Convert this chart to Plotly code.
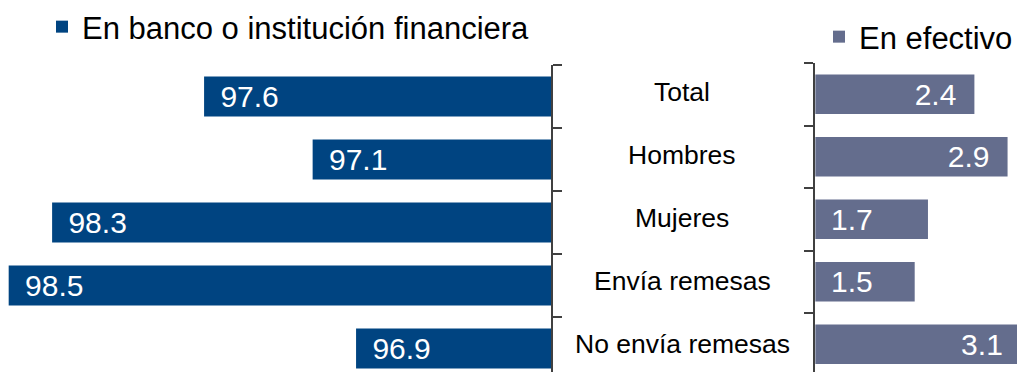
import plotly.graph_objects as go

# Forma de recepción de remesas (%)
categorias = ["Total", "Hombres", "Mujeres", "Envía remesas", "No envía remesas"]
banco = [97.6, 97.1, 98.3, 98.5, 96.9]
efectivo = [2.4, 2.9, 1.7, 1.5, 3.1]
# where each "en efectivo" label sits inside its bar
anclaje_efectivo = ["fin", "fin", "inicio", "inicio", "fin"]

serie_banco = "En banco o institución financiera"
serie_efectivo = "En efectivo"

azul = "#004481"
gris_azul = "#646d8d"
eje = "#404040"
fuente = "Liberation Sans, Arial, sans-serif"
W, H = 1018, 372

fig = go.Figure()

fig.add_trace(go.Bar(
    y=categorias, x=banco, orientation="h",
    xaxis="x", yaxis="y",
    marker=dict(color=azul, line=dict(width=0)),
    width=0.635,
    text=["\u00a0\u2006" + f"{v:.1f}" for v in banco],
    textposition="inside", insidetextanchor="end", textangle=0,
    textfont=dict(color="white", size=30, family=fuente),
    constraintext="none",
    name=serie_banco, legend="legend",
    hoverinfo="skip",
))

fig.add_trace(go.Bar(
    y=categorias, x=efectivo, orientation="h",
    xaxis="x2", yaxis="y2",
    marker=dict(color=gris_azul, line=dict(width=0)),
    width=0.635,
    text=[(f"{v:.1f}" + "\u2002") if a == "fin" else ""
          for v, a in zip(efectivo, anclaje_efectivo)],
    textposition="inside", insidetextanchor="end", textangle=0,
    textfont=dict(color="white", size=30, family=fuente),
    constraintext="none",
    name=serie_efectivo, legend="legend2",
    hoverinfo="skip",
))

# Labels of the short "en efectivo" bars sit at the start of the bar
for c, v, a in zip(categorias, efectivo, anclaje_efectivo):
    if a == "inicio":
        fig.add_annotation(
            x=0, xref="x2", y=c, yref="y2",
            text=f"{v:.1f}", showarrow=False,
            xanchor="left", yanchor="middle", xshift=14,
            font=dict(size=30, color="white", family=fuente),
        )

# Category names in the central column
for c in categorias:
    fig.add_annotation(
        x=683 / W, xref="paper", y=c, yref="y",
        text=c, showarrow=False, xanchor="center", yanchor="middle",
        yshift=5,
        font=dict(size=26.5, color="black", family=fuente),
    )

left_px, right_px = 552, 816
y_top_left, y_top_right = 65, 63
step_left, step_right = 63, 62.5
px_por_unidad_der = 66.4

comun_y = dict(
    type="category", categoryorder="array", categoryarray=categorias,
    showline=True, linecolor=eje, linewidth=2,
    ticks="outside", tickson="boundaries", ticklen=9, tickwidth=2, tickcolor=eje,
    showticklabels=False, showgrid=False, zeroline=False, fixedrange=True,
)

fig.update_layout(
    width=W, height=H,
    margin=dict(l=0, r=0, t=0, b=0),
    paper_bgcolor="white", plot_bgcolor="white",
    font=dict(family=fuente, color="black"),
    barmode="overlay",
    xaxis=dict(domain=[0, left_px / W], range=[98.54, 96.0],
               showgrid=False, zeroline=False, showline=False,
               showticklabels=False, ticks="", fixedrange=True),
    yaxis=dict(anchor="x", side="right",
               domain=[0, 1 - y_top_left / H],
               range=[-0.5 + (H - y_top_left) / step_left, -0.5],
               **comun_y),
    xaxis2=dict(domain=[right_px / W, 1],
                range=[0, (W - right_px) / px_por_unidad_der],
                anchor="y2",
                showgrid=False, zeroline=False, showline=False,
                showticklabels=False, ticks="", fixedrange=True),
    yaxis2=dict(anchor="x2", side="left",
                domain=[0, 1 - y_top_right / H],
                range=[-0.5 + (H - y_top_right) / step_right, -0.5],
                **comun_y),
    legend=dict(x=42 / W, y=1.0, xanchor="left", yanchor="top",
                font=dict(size=31, color="black", family=fuente),
                bgcolor="rgba(0,0,0,0)", borderwidth=0,
                itemclick=False, itemdoubleclick=False),
    legend2=dict(x=820 / W, y=1 - 10 / H, xanchor="left", yanchor="top",
                 font=dict(size=31, color="black", family=fuente),
                 bgcolor="rgba(0,0,0,0)", borderwidth=0,
                 itemclick=False, itemdoubleclick=False),
    showlegend=True,
)

fig.write_html("out.html", config=dict(displayModeBar=False))
